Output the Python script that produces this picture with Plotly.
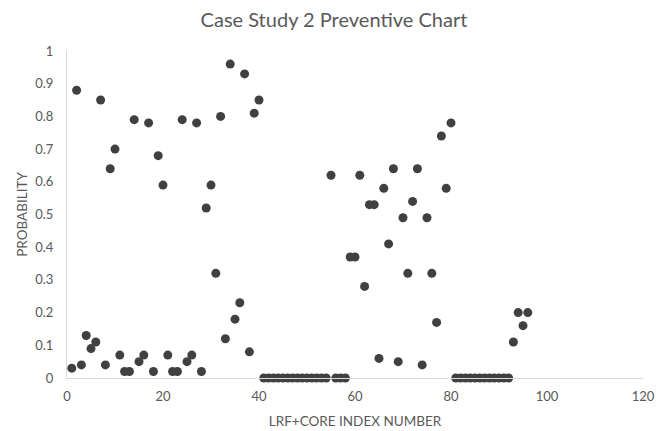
import plotly.graph_objects as go

index_numbers = list(range(1, 97))
probability = [
    0.03, 0.88, 0.04, 0.13, 0.09, 0.11, 0.85, 0.04, 0.64, 0.70,
    0.07, 0.02, 0.02, 0.79, 0.05, 0.07, 0.78, 0.02, 0.68, 0.59,
    0.07, 0.02, 0.02, 0.79, 0.05, 0.07, 0.78, 0.02, 0.52, 0.59,
    0.32, 0.80, 0.12, 0.96, 0.18, 0.23, 0.93, 0.08, 0.81, 0.85,
    0, 0, 0, 0, 0, 0, 0, 0, 0, 0,
    0, 0, 0, 0, 0.62, 0, 0, 0, 0.37, 0.37,
    0.62, 0.28, 0.53, 0.53, 0.06, 0.58, 0.41, 0.64, 0.05, 0.49,
    0.32, 0.54, 0.64, 0.04, 0.49, 0.32, 0.17, 0.74, 0.58, 0.78,
    0, 0, 0, 0, 0, 0, 0, 0, 0, 0,
    0, 0, 0.11, 0.20, 0.16, 0.20,
]
y_tick_vals = [0, 0.1, 0.2, 0.3, 0.4, 0.5, 0.6, 0.7, 0.8, 0.9, 1]
y_tick_text = ["0", "0.1", "0.2", "0.3", "0.4", "0.5", "0.6", "0.7", "0.8", "0.9", "1"]
x_tick_vals = [0, 20, 40, 60, 80, 100, 120]

FONT = "Lato, 'Open Sans', sans-serif"
GRAY = "#595959"

fig = go.Figure(
    go.Scatter(
        x=index_numbers,
        y=probability,
        mode="markers",
        marker=dict(size=9, color="#404040"),
        cliponaxis=False,
        showlegend=False,
    )
)

fig.update_layout(
    width=668,
    height=431,
    margin=dict(l=67, r=25, t=51, b=53),
    paper_bgcolor="white",
    plot_bgcolor="white",
    font=dict(family=FONT, color=GRAY, size=12),
    title=dict(
        text="Case Study 2 Preventive Chart",
        x=0.5,
        xanchor="center",
        y=1 - 20 / 431,
        yanchor="middle",
        font=dict(size=20, color=GRAY, family=FONT),
    ),
)

fig.update_xaxes(
    range=[0, 120],
    tickvals=x_tick_vals,
    showgrid=False,
    zeroline=False,
    showline=True,
    linecolor="#d9d9d9",
    linewidth=1,
    ticks="",
    automargin=False,
    ticklabelstandoff=6,
    tickfont=dict(size=13, color=GRAY),
    title=dict(text="LRF+CORE INDEX NUMBER", font=dict(size=13.5, color=GRAY), standoff=13),
)
fig.update_yaxes(
    range=[0, 1],
    tickvals=y_tick_vals,
    ticktext=y_tick_text,
    showgrid=False,
    zeroline=False,
    showline=True,
    linecolor="#d9d9d9",
    linewidth=1,
    ticks="",
    automargin=False,
    ticklabelstandoff=10,
    tickfont=dict(size=13, color=GRAY),
    title=dict(text="PROBABILITY", font=dict(size=13.5, color=GRAY), standoff=4),
)

fig.write_html(
    "out.html",
    config={"displayModeBar": False},
    post_script="document.body.style.margin='0';",
)
